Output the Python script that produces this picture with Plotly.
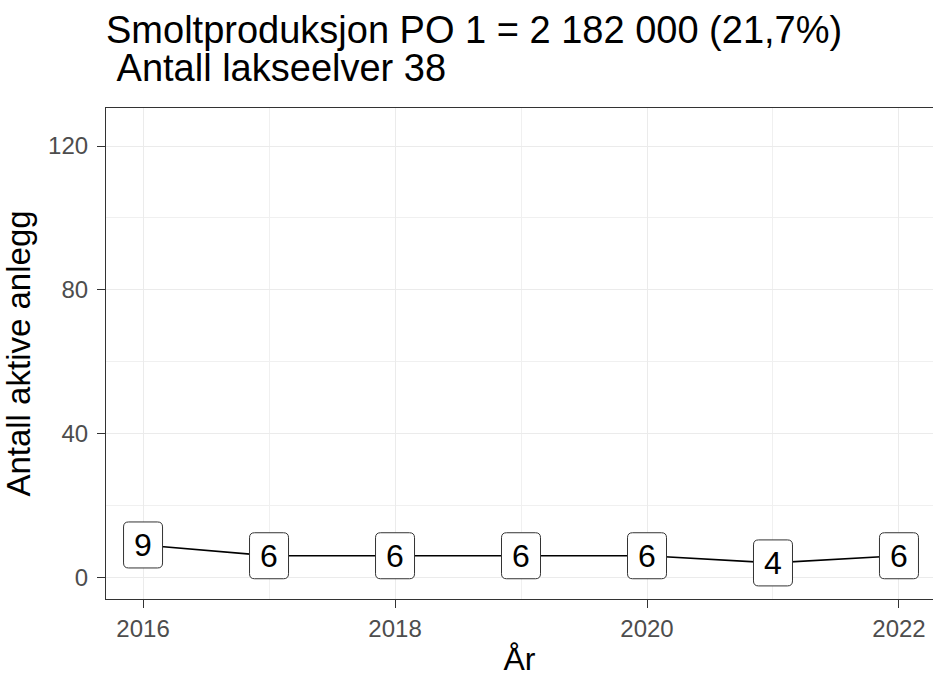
import plotly.graph_objects as go

years = [2016, 2017, 2018, 2019, 2020, 2021, 2022]
anlegg = [9, 6, 6, 6, 6, 4, 6]
x_ticks = [2016, 2018, 2020, 2022]
y_ticks = [0, 40, 80, 120]
title_line1 = "Smoltproduksjon PO 1 = 2 182 000 (21,7%)"
title_line2 = "\u00a0Antall lakseelver 38"
x_title = "År"
y_title = "Antall aktive anlegg"

W, H = 933, 677
L, T, B, R = 106, 108, 78, 0
FONT = "Liberation Sans, Arial, sans-serif"
plot_h = H - T - B

def paper_y(px):
    return (H - B - px) / plot_h

# rounded label box (pixel units, centred on the data point)
bw, bh, rr = 39, 46, 5
hw, hh = bw / 2, bh / 2
box_path = (f"M {-hw+rr},{-hh} L {hw-rr},{-hh} Q {hw},{-hh} {hw},{-hh+rr} "
            f"L {hw},{hh-rr} Q {hw},{hh} {hw-rr},{hh} L {-hw+rr},{hh} "
            f"Q {-hw},{hh} {-hw},{hh-rr} L {-hw},{-hh+rr} Q {-hw},{-hh} {-hw+rr},{-hh} Z")

fig = go.Figure()
fig.add_trace(go.Scatter(x=years, y=anlegg, mode="lines",
                         line=dict(color="black", width=1.6),
                         hoverinfo="skip", showlegend=False))

shapes = []
annotations = []
for xv, yv in zip(years, anlegg):
    shapes.append(dict(type="path", xref="x", yref="y",
                       xsizemode="pixel", ysizemode="pixel",
                       xanchor=xv, yanchor=yv, path=box_path,
                       fillcolor="white", line=dict(color="#333333", width=1),
                       layer="above"))
    annotations.append(dict(x=xv, y=yv, xref="x", yref="y", text=str(yv),
                            showarrow=False, font=dict(family=FONT, size=32, color="black"),
                            xanchor="center", yanchor="middle"))
annotations.append(dict(x=(104 - L) / (W - L - R), y=paper_y(30), xref="paper", yref="paper",
                        text=title_line1, showarrow=False, xanchor="left", yanchor="middle",
                        font=dict(family=FONT, size=38, color="black")))
annotations.append(dict(x=(104 - L) / (W - L - R), y=paper_y(68), xref="paper", yref="paper",
                        text=title_line2, showarrow=False, xanchor="left", yanchor="middle",
                        font=dict(family=FONT, size=38, color="black")))

axis_common = dict(
    showline=True, linecolor="#333333", linewidth=1.2,
    ticks="outside", ticklen=8, tickwidth=1.2, tickcolor="#333333",
    tickfont=dict(family=FONT, size=24, color="#4D4D4D"),
    showgrid=True, gridcolor="#EBEBEB", gridwidth=1.3,
    zeroline=False,
)

fig.update_layout(
    width=W, height=H,
    margin=dict(l=L, r=R, t=T, b=B, pad=0),
    paper_bgcolor="white", plot_bgcolor="white",
    shapes=shapes,
    annotations=annotations,
    xaxis=dict(**axis_common, range=[2015.706, 2022.27], tickmode="array",
               tickvals=x_ticks, ticktext=[str(v) for v in x_ticks], mirror=True,
               minor=dict(dtick=1, tick0=2016, showgrid=True, gridcolor="#F0F0F0", gridwidth=0.8, ticks=""),
               title=dict(text=x_title, font=dict(family=FONT, size=32, color="black"), standoff=12)),
    yaxis=dict(**axis_common, range=[-6.04, 130.6], tickmode="array",
               tickvals=y_ticks, ticktext=[str(v) for v in y_ticks], ticklabelstandoff=4,
               minor=dict(dtick=20, tick0=0, showgrid=True, gridcolor="#F0F0F0", gridwidth=0.8, ticks=""),
               title=dict(text=y_title, font=dict(family=FONT, size=33, color="black"), standoff=10)),
)

fig.write_html("out.html", config={"displayModeBar": False},
               post_script="document.body.style.margin='0';")
